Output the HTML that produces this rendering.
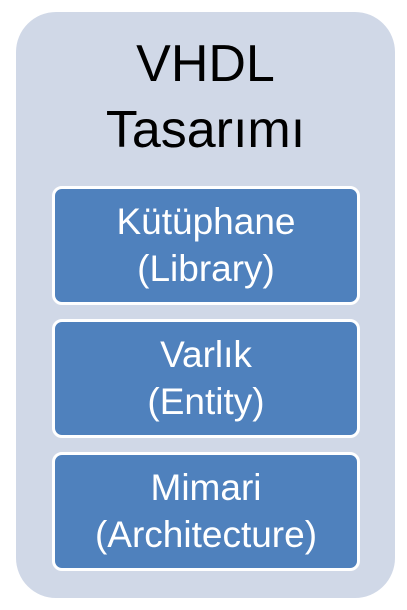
<!DOCTYPE html>
<html><head><meta charset="utf-8"><style>
body{margin:0;width:407px;height:610px;background:#fff;position:relative;overflow:hidden;font-family:"Liberation Sans",sans-serif;}
.outer{position:absolute;left:16px;top:12px;width:379px;height:586px;background:#d0d8e7;border-radius:40px;}
.t{position:absolute;left:16px;width:379px;text-align:center;font-size:52px;color:#000;line-height:66px;}
.b{position:absolute;left:52px;width:302px;height:113px;background:#4f81bd;border:3px solid #fff;border-radius:10px;color:#fff;text-align:center;font-size:37px;line-height:47px;box-sizing:content-box;}
.b div{padding-top:9px;}
</style></head><body>
<div class="outer"></div>
<div class="t" style="top:31px">VHDL</div>
<div class="t" style="top:97px">Tasarımı</div>
<div class="b" style="top:186px"><div>Kütüphane<br>(Library)</div></div>
<div class="b" style="top:319px"><div>Varlık<br>(Entity)</div></div>
<div class="b" style="top:452px"><div>Mimari<br>(Architecture)</div></div>
</body></html>
